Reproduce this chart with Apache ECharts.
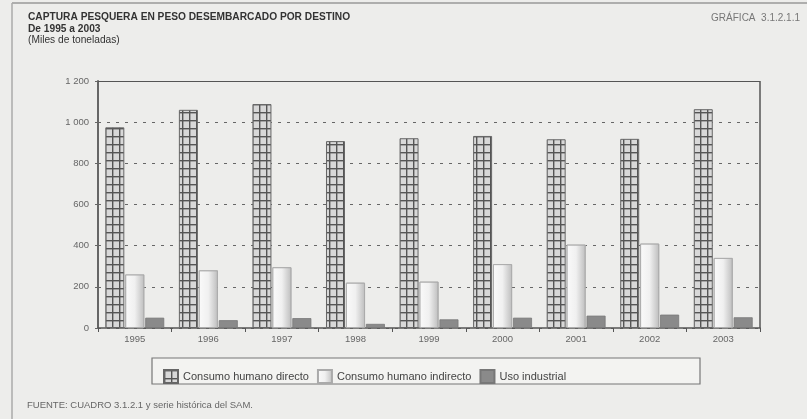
<!DOCTYPE html>
<html><head><meta charset="utf-8">
<script src="https://cdn.jsdelivr.net/npm/echarts@6/dist/echarts.min.js"></script>
<style>html,body{margin:0;padding:0;background:#ededeb;}#c{width:807px;height:419px;}</style>
</head><body><div id="c"></div>
<script>
const years = ['1995','1996','1997','1998','1999','2000','2001','2002','2003'];
const directo = [975, 1060, 1088, 908, 922, 933, 917, 919, 1063];
const indirecto = [260, 280, 295, 220, 225, 310, 405, 410, 340];
const industrial = [50, 38, 48, 20, 42, 50, 60, 65, 52];
const yTicks = [0, 200, 400, 600, 800, 1000, 1200];

function gridPattern(){
  const c = document.createElement('canvas');
  c.width = 7; c.height = 8;
  const g = c.getContext('2d');
  g.fillStyle = '#d8d8d8'; g.fillRect(0,0,7,8);
  g.fillStyle = '#555'; g.fillRect(0,0,1.4,8); g.fillRect(0,0,7,1.4);
  return c;
}
const chart = echarts.init(document.getElementById('c'), null, {renderer:'canvas'});
const font = 'Liberation Sans, Arial, sans-serif';
const frame = [
  {type:'line', shape:{x1:12,y1:3,x2:807,y2:3}, style:{stroke:'#999', lineWidth:1.5}},
  {type:'line', shape:{x1:12,y1:3,x2:12,y2:419}, style:{stroke:'#aaa', lineWidth:1.5}},
  {type:'rect', shape:{x:152,y:358,width:548,height:26}, style:{fill:'#f3f3f1', stroke:'#777', lineWidth:1.2}, z:0}
];
chart.setOption({
  backgroundColor: '#ededeb',
  animation: false,
  title: [
    {text: 'CAPTURA PESQUERA EN PESO DESEMBARCADO POR DESTINO', left: 23, top: 7,
     textStyle: {fontFamily: font, fontSize: 10.2, fontWeight: 'bold', color: '#333'}},
    {text: 'De 1995 a 2003', left: 23, top: 19,
     textStyle: {fontFamily: font, fontSize: 10.2, fontWeight: 'bold', color: '#333'}},
    {text: '(Miles de toneladas)', left: 23, top: 30,
     textStyle: {fontFamily: font, fontSize: 10.2, fontWeight: 'normal', color: '#333'}},
    {text: 'GRÁFICA  3.1.2.1.1', right: 2, top: 8,
     textStyle: {fontFamily: font, fontSize: 10, fontWeight: 'normal', color: '#777'}},
    {text: 'FUENTE: CUADRO 3.1.2.1 y serie histórica del SAM.', left: 22, top: 395,
     textStyle: {fontFamily: font, fontSize: 9.5, fontWeight: 'normal', color: '#666'}}
  ],
  graphic: frame,
  grid: {left: 98, right: 47, top: 81, bottom: 91},
  legend: {
    left: 158, top: 364, itemGap: 8, itemWidth: 14, itemHeight: 13, icon: 'rect',
    textStyle: {fontFamily: font, fontSize: 11, color: '#444'},
    data: ['Consumo humano directo','Consumo humano indirecto','Uso industrial'],
    z: 5
  },
  xAxis: {
    type: 'category', data: years,
    axisLine: {lineStyle: {color: '#555', width: 1.5}},
    axisTick: {show: true, length: 4, lineStyle:{color:'#555'}},
    axisLabel: {fontFamily: font, fontSize: 9.5, color: '#666', margin: 6},
    splitLine: {show: false}
  },
  yAxis: {
    type: 'value', min: 0, max: 1200, interval: 200,
    axisLine: {show: true, lineStyle: {color: '#666', width: 2}},
    axisTick: {show: true, length: 3, lineStyle:{color:'#666'}},
    axisLabel: {fontFamily: font, fontSize: 9.5, color: '#666', margin: 9,
      formatter: v => yTicks.includes(v) ? String(v).replace(/\B(?=(\d{3})+(?!\d))/g, ' ') : ''},
    splitLine: {show: true, lineStyle: {color: '#666', type: [3,6], width: 1.2}}
  },
  series: [
    {name: 'Consumo humano directo', type: 'bar', data: directo, barWidth: 19, barGap: '5%',
     itemStyle: {color: {image: gridPattern(), repeat: 'repeat'}, borderColor: '#666', borderWidth: 1}},
    {name: 'Consumo humano indirecto', type: 'bar', data: indirecto, barWidth: 19,
     itemStyle: {color: new echarts.graphic.LinearGradient(0,0,1,0,[
       {offset:0, color:'#fafafa'},{offset:0.5,color:'#f0f0f0'},{offset:1,color:'#bdbdbd'}]),
       borderColor: '#aaa', borderWidth: 0.8}},
    {name: 'Uso industrial', type: 'bar', data: industrial, barWidth: 19,
     itemStyle: {color: '#8a8a8a', borderColor: '#777', borderWidth: 0.8},
     markLine: {silent: true, symbol: 'none', label: {show:false},
       lineStyle: {color:'#555', type:'solid', width:1.2}, data: [{yAxis: 1200}]}}
  ]
});
const r = chart.convertToPixel({gridIndex:0}, [8.5, 0]);
const t = chart.convertToPixel({gridIndex:0}, [8.5, 1200]);
chart.setOption({graphic: frame.concat([
  {type:'line', shape:{x1:760,y1:t[1],x2:760,y2:r[1]}, style:{stroke:'#555', lineWidth:1.5}}
])});
</script></body></html>
